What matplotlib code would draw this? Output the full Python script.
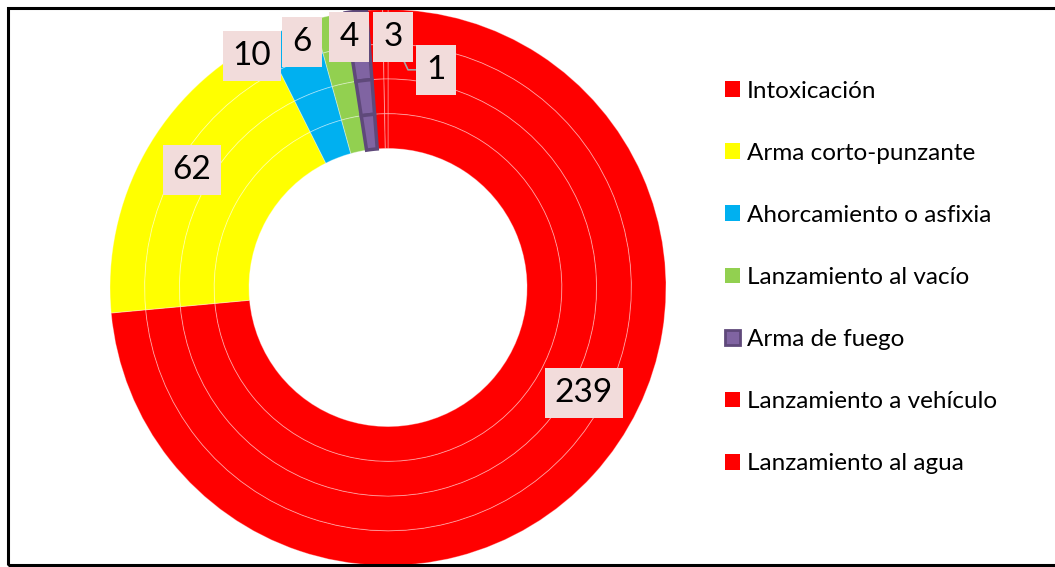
import matplotlib.pyplot as plt
from matplotlib.patches import Rectangle

plt.rcParams['font.family'] = ['Lato', 'DejaVu Sans']

categories = ['Intoxicación', 'Arma corto-punzante', 'Ahorcamiento o asfixia',
              'Lanzamiento al vacío', 'Arma de fuego', 'Lanzamiento a vehículo',
              'Lanzamiento al agua']
values = [239, 62, 10, 6, 4, 3, 1]
colors = ['#FF0000', '#FFFF00', '#00B0F0', '#92D050', '#8064A2', '#FF0000', '#FF0000']

# label box positions (Excel moved the small ones around)
label_pos = [(0.705, -0.38), (-0.705, 0.423), (-0.489, 0.833), (-0.309, 0.883),
             (-0.140, 0.901), (0.018, 0.901), (0.172, 0.783)]

W, H = 1055, 567
fig = plt.figure(figsize=(W / 100, H / 100), dpi=100)

cx, cy, R = 388, 567 - 287.5, 278
ax = fig.add_axes([(cx - R) / W, (cy - R) / H, 2 * R / W, 2 * R / H])
ax.set_aspect('equal')
ax.axis('off')

rings = [1.0, 0.875, 0.75, 0.625]
outer_wedges = None
for r in rings:
    wedges, _ = ax.pie(values, radius=r, colors=colors, startangle=90, counterclock=False,
                       wedgeprops=dict(width=0.125, edgecolor=(1, 1, 1, 0.35), linewidth=0.7))
    # purple slice has a dark outline
    wedges[4].set_edgecolor('#5F497A')
    wedges[4].set_linewidth(2.5)
    wedges[4].set_zorder(3)
    if outer_wedges is None:
        outer_wedges = wedges
ax.set_xlim(-1, 1)
ax.set_ylim(-1, 1)

for (x, y), v in zip(label_pos, values):
    ax.text(x, y, str(v), ha='center', va='center', fontsize=24, zorder=5,
            bbox=dict(boxstyle='square,pad=0.3', fc='#F2DCDB', ec='none'))

# leader line for the "1" label
ax.plot([0.057, 0.072, 0.115], [0.815, 0.783, 0.783], color='#A6A6A6', lw=1.2, zorder=4)

leg = fig.legend(outer_wedges, categories, loc='upper left', bbox_to_anchor=(715 / W, 1 - 71 / H),
                 frameon=False, fontsize=17.5, labelspacing=1.69, handlelength=0.62,
                 handleheight=0.62, handletextpad=0.3, borderaxespad=0)
for h in leg.legend_handles:
    h.set_linewidth(0)
leg.legend_handles[4].set_linewidth(2)
leg.legend_handles[4].set_edgecolor('#5F497A')

fig.patches.append(Rectangle((8 / W, 2 / H), 1.2, 1 - 10 / H, transform=fig.transFigure,
                             fill=False, ec='black', lw=2.2, zorder=10))

fig.savefig('out.png', dpi=100)
